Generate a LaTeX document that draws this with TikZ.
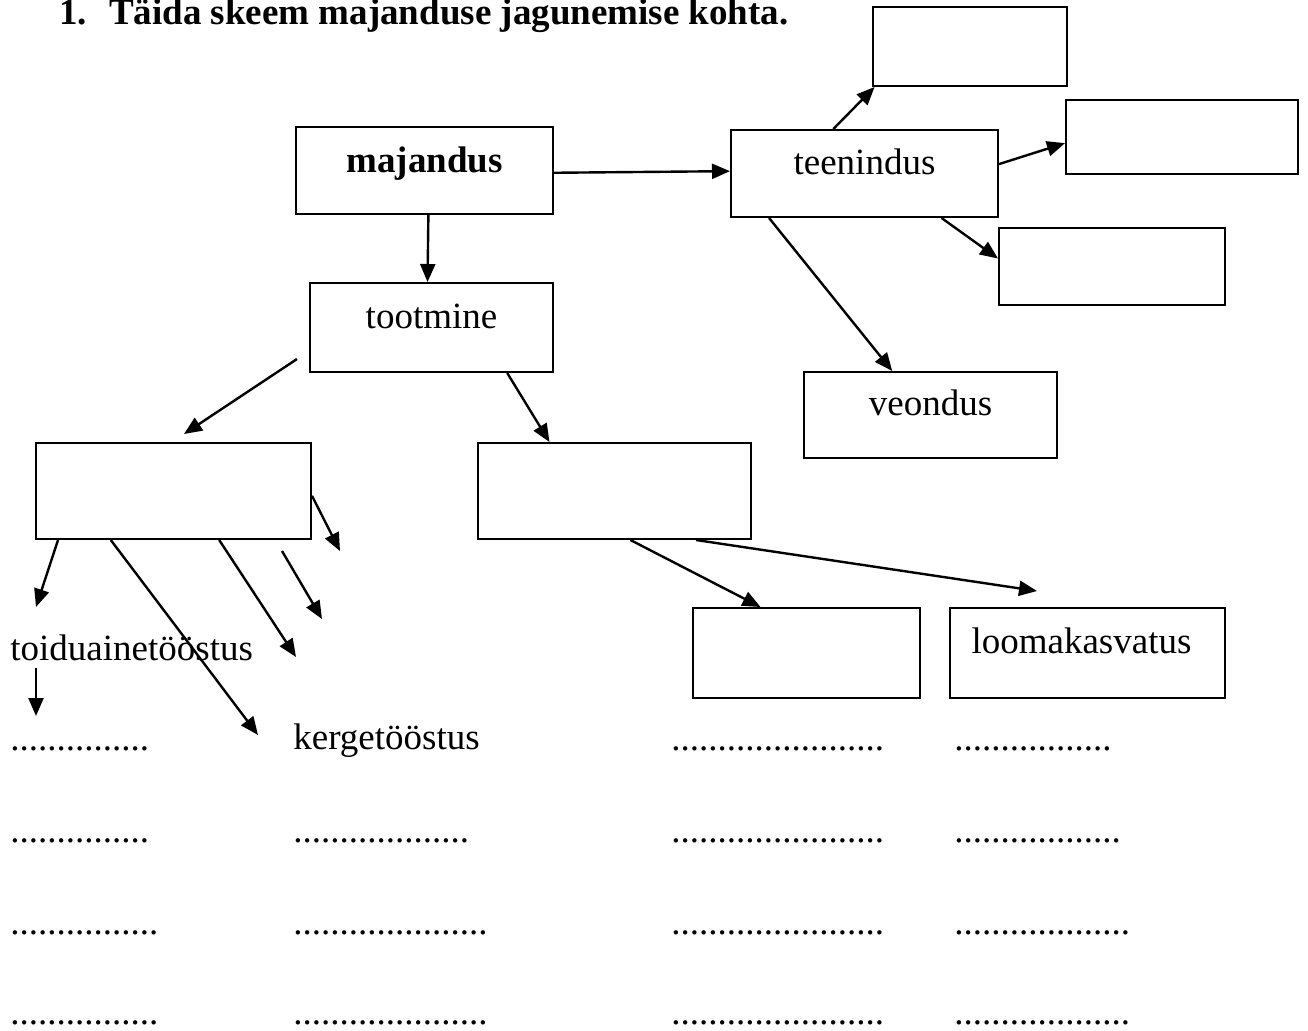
\documentclass[tikz,border=0pt]{standalone}
\usepackage{fontspec}
\setmainfont{Liberation Serif}
\usetikzlibrary{arrows.meta}
\newcommand{\suur}{\fontsize{18.5pt}{22pt}\selectfont}
\newcommand{\punktid}[1]{\foreach \k in {1,...,#1}{.}}

\begin{document}
\begin{tikzpicture}[x=0.5pt,y=-0.5pt,
    every node/.style={font=\suur},
    kast/.style 2 args={draw, line width=1pt, inner sep=0pt, minimum width=#1, minimum height=#2},
    nool/.style={-{Triangle[length=9pt,width=7.5pt]}, line width=1.2pt},
    vaba/.style={anchor=base west, inner sep=0pt}]
\useasboundingbox (0,0) rectangle (1308,1030);

% pealkiri
\node[vaba, font=\suur\bfseries] (pealkiri) at (59,24) {1.\hspace{11pt}Täida skeem majanduse jagunemise kohta.};

% kastid
\node[kast={128.5pt}{43.5pt}, text height=22.5pt, text depth=21pt, font=\suur\bfseries] (maj) at (424.5,170.5) {majandus};
\node[kast={133.5pt}{43.5pt}, text height=22pt, text depth=21.5pt] (teen) at (864.5,173.5) {teenindus};
\node[kast={97pt}{39.5pt}] (tA) at (970,46.5) {};
\node[kast={116pt}{37pt}] (tB) at (1182,137) {};
\node[kast={113pt}{38.5pt}] (tC) at (1112,266.5) {};
\node[kast={126.5pt}{43pt}, text height=21.5pt, text depth=21.5pt] (veon) at (930.5,415) {veondus};
\node[kast={121.5pt}{44.5pt}, text height=22.5pt, text depth=22pt] (toot) at (431.5,327.5) {tootmine};
\node[kast={137.5pt}{48pt}] (L) at (173.5,491) {};
\node[kast={136.5pt}{48pt}] (M) at (614.5,491) {};
\node[kast={113.5pt}{45pt}] (P) at (806.5,653) {};
\node[kast={137.5pt}{45pt}, text height=22.5pt, text depth=22.5pt] (loom) at (1087.5,653) {\hspace*{-6pt}loomakasvatus};

% vabad tekstid
\node[vaba] (toid) at (10,660) {toiduainetööstus};
\node[vaba] (kerge) at (293,749) {kergetööstus};
\node[vaba] (r1-a) at (10,750) {\punktid{15}};
\node[vaba] (r1-c) at (671,750) {\punktid{23}};
\node[vaba] (r1-d) at (954,750) {\punktid{17}};
\foreach \r/\y/\a/\b/\d in {2/842/15/19/18, 3/934/16/21/19, 4/1024/16/21/19}{
  \node[vaba] (r\r-a) at (10,\y) {\punktid{\a}};
  \node[vaba] (r\r-b) at (293,\y) {\punktid{\b}};
  \node[vaba] (r\r-c) at (671,\y) {\punktid{23}};
  \node[vaba] (r\r-d) at (954,\y) {\punktid{\d}};
}

% vabad otsad
\coordinate (t0) at (297,359);
\coordinate (t1) at (184,434);
\coordinate (lk) at (1037,591);
\coordinate (l1) at (36,607);
\coordinate (l2) at (258,735);
\coordinate (l3) at (296,657);
\coordinate (l4a) at (282,551);
\coordinate (l4) at (322,619);
\coordinate (l5) at (340,551);
\coordinate (t2) at (36,716);

% nooled
\draw[nool] (maj.-1) -- (teen.179);
\draw[nool] (maj.-85.4) -- (toot.95.8);
\draw[nool] (t0) -- (t1);
\draw[nool] (toot.-31.9) -- (M.143.3);
\draw[nool] (teen.125.9) -- (tA.203.9);
\draw[nool] (teen.4.5) -- (tB.183);
\draw[nool] (teen.-30) -- (tC.176.2);
\draw[nool] (teen.205.9) -- (veon.131.1);
\draw[nool] (M.-72.1) -- (P.135.9);
\draw[nool] (M.-31.4) -- (lk);
\draw[nool] (L.203.3) -- (l1);
\draw[nool] (L.218) -- (l2);
\draw[nool] (L.-47.8) -- (l3);
\draw[nool] (l4a) -- (l4);
\draw[nool] (L.-2.9) -- (l5);
\draw[nool] (toid.south west -| l1) ++(0,7) -- (t2);
\end{tikzpicture}
\end{document}
